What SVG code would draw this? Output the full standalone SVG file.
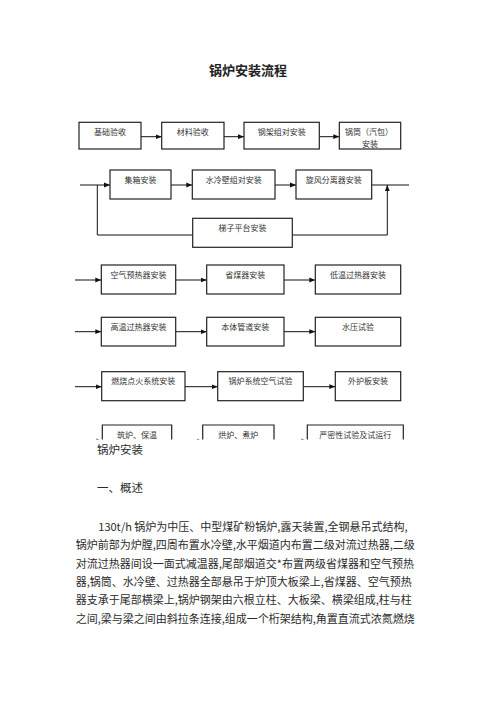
<svg xmlns="http://www.w3.org/2000/svg" width="496" height="702" viewBox="0 0 496 702">
<style>
.bx{fill:#fff;stroke:#222;stroke-width:1.2}
.bo{fill:none;stroke:#222;stroke-width:1.2}
.t{font-family:"Noto Sans CJK SC","Liberation Serif",serif;font-size:8px;fill:#333;text-anchor:middle}
.ln{fill:none;stroke:#111;stroke-width:1}
.body{font-family:"Noto Sans CJK SC","Liberation Sans",sans-serif;font-size:11px;fill:#2b2b2b}
.h{font-family:"Noto Sans CJK SC","Liberation Sans",sans-serif;font-size:11.5px;fill:#2b2b2b}
.title{font-family:"Noto Sans CJK SC","Liberation Sans",sans-serif;font-size:13px;font-weight:bold;fill:#222;text-anchor:middle}
</style>
<defs>
<marker id="ah" viewBox="0 0 6 6" refX="6" refY="3" markerWidth="6" markerHeight="6" markerUnits="userSpaceOnUse" orient="auto">
<path d="M0,0.6 L6,3 L0,5.4 z" fill="#111"/>
</marker>
<clipPath id="cut"><rect x="0" y="0" width="496" height="439.5"/></clipPath>
</defs>
<rect width="496" height="702" fill="#fff"/>
<text class="title" x="248" y="75">锅炉安装流程</text>

<g id="connectors">
<line class="ln" x1="141" y1="136.7" x2="161.7" y2="136.7" marker-end="url(#ah)"/>
<line class="ln" x1="224" y1="136.7" x2="244" y2="136.7" marker-end="url(#ah)"/>
<line class="ln" x1="319.3" y1="136.7" x2="339.3" y2="136.7" marker-end="url(#ah)"/>
<line class="ln" x1="80" y1="185" x2="110" y2="185" marker-end="url(#ah)"/>
<line class="ln" x1="171" y1="185" x2="192.3" y2="185" marker-end="url(#ah)"/>
<line class="ln" x1="275" y1="185" x2="296" y2="185" marker-end="url(#ah)"/>
<line class="ln" x1="371.7" y1="185" x2="409" y2="185"/>
<polyline class="ln" points="97.3,185 97.3,235 192.7,235"/>
<polyline class="ln" points="292.3,235 387.3,235 387.3,185" marker-end="url(#ah)"/>
<line class="ln" x1="75" y1="280" x2="101.3" y2="280" marker-end="url(#ah)"/>
<line class="ln" x1="175.7" y1="280" x2="206.7" y2="280" marker-end="url(#ah)"/>
<line class="ln" x1="284" y1="280" x2="315.3" y2="280" marker-end="url(#ah)"/>
<line class="ln" x1="75" y1="331.7" x2="101.3" y2="331.7" marker-end="url(#ah)"/>
<line class="ln" x1="175.7" y1="331.7" x2="206.7" y2="331.7" marker-end="url(#ah)"/>
<line class="ln" x1="284" y1="331.7" x2="315.3" y2="331.7" marker-end="url(#ah)"/>
<line class="ln" x1="75" y1="386.7" x2="101.7" y2="386.7" marker-end="url(#ah)"/>
<line class="ln" x1="185" y1="386.7" x2="217.7" y2="386.7" marker-end="url(#ah)"/>
<line class="ln" x1="303.3" y1="386.7" x2="335.3" y2="386.7" marker-end="url(#ah)"/>
<g clip-path="url(#cut)">
<line class="ln" x1="75" y1="441" x2="102.3" y2="441" marker-end="url(#ah)"/>
<line class="ln" x1="171.7" y1="441" x2="202.7" y2="441" marker-end="url(#ah)"/>
<line class="ln" x1="274" y1="441" x2="307.3" y2="441" marker-end="url(#ah)"/>
</g>
</g>

<g id="n1"><rect class="bx" x="79" y="122.3" width="62" height="26.7"/><text class="t" x="110" y="134.7">基础验收</text></g>
<g id="n2"><rect class="bx" x="161.7" y="122.3" width="62.3" height="26.7"/><text class="t" x="192.8" y="134.7">材料验收</text></g>
<g id="n3"><rect class="bx" x="244" y="122.3" width="75.3" height="26.7"/><text class="t" x="281.7" y="134.7">钢架组对安装</text></g>
<g id="n4"><rect class="bx" x="339.3" y="122.3" width="61.4" height="26.7"/><text class="t" x="369" y="134.5">锅筒（汽包）</text><text class="t" x="370" y="147">安装</text></g>

<g id="n5"><rect class="bx" x="110" y="170" width="61" height="29"/><text class="t" x="140.5" y="183">集箱安装</text></g>
<g id="n6"><rect class="bx" x="192.3" y="170" width="82.7" height="29"/><text class="t" x="233.7" y="183">水冷壁组对安装</text></g>
<g id="n7"><rect class="bx" x="296" y="170" width="75.7" height="29"/><text class="t" x="333.8" y="183">旋风分离器安装</text></g>
<g id="n8"><rect class="bx" x="192.7" y="218.3" width="99.6" height="29"/><text class="t" x="242.5" y="231">梯子平台安装</text></g>

<g id="n9"><rect class="bx" x="101.3" y="265" width="74.4" height="29"/><text class="t" x="138.5" y="278">空气预热器安装</text></g>
<g id="n10"><rect class="bx" x="206.7" y="265" width="77.3" height="29"/><text class="t" x="245.3" y="278">省煤器安装</text></g>
<g id="n11"><rect class="bx" x="315.3" y="265" width="85.4" height="29"/><text class="t" x="358" y="278">低温过热器安装</text></g>

<g id="n12"><rect class="bx" x="101.3" y="317.3" width="74.4" height="28.7"/><text class="t" x="138.5" y="329.7">高温过热器安装</text></g>
<g id="n13"><rect class="bx" x="206.7" y="317.3" width="77.3" height="28.7"/><text class="t" x="245.3" y="329.7">本体管道安装</text></g>
<g id="n14"><rect class="bx" x="315.3" y="317.3" width="85.4" height="28.7"/><text class="t" x="358" y="329.7">水压试验</text></g>

<g id="n15"><rect class="bx" x="101.7" y="371.7" width="83.3" height="29"/><text class="t" x="143.3" y="384">燃烧点火系统安装</text></g>
<g id="n16"><rect class="bx" x="217.7" y="371.7" width="85.6" height="29"/><text class="t" x="260.5" y="384">锅炉系统空气试验</text></g>
<g id="n17"><rect class="bx" x="335.3" y="371.7" width="65.4" height="29"/><text class="t" x="368" y="384">外护板安装</text></g>

<g id="n18"><path class="bo" d="M102.3,439.5 V425 H171.7 V439.5"/><text class="t" x="137" y="438">筑炉、保温</text></g>
<g id="n19"><path class="bo" d="M202.7,439.5 V425 H274 V439.5"/><text class="t" x="238.3" y="438">烘炉、煮炉</text></g>
<g id="n20"><path class="bo" d="M307.3,439.5 V425 H403.3 V439.5"/><text class="t" x="355.3" y="438">严密性试验及试运行</text></g>

<text class="h" x="97" y="453.5">锅炉安装</text>
<text class="h" x="97" y="492">一、概述</text>
<text class="body" x="98.3" y="531">130t/h  锅炉为中压、中型煤矿粉锅炉,露天装置,全钢悬吊式结构,</text>
<text class="body" x="75.7" y="549.3">锅炉前部为炉膛,四周布置水冷壁,水平烟道内布置二级对流过热器,二级</text>
<text class="body" x="75.7" y="567.6">对流过热器间设一面式减温器,尾部烟道交*布置两级省煤器和空气预热</text>
<text class="body" x="75.7" y="586">器,锅筒、水冷壁、过热器全部悬吊于炉顶大板梁上,省煤器、空气预热</text>
<text class="body" x="75.7" y="604.3">器支承于尾部横梁上,锅炉钢架由六根立柱、大板梁、横梁组成,柱与柱</text>
<text class="body" x="75.7" y="622.6">之间,梁与梁之间由斜拉条连接,组成一个桁架结构,角置直流式浓氮燃烧</text>
</svg>
